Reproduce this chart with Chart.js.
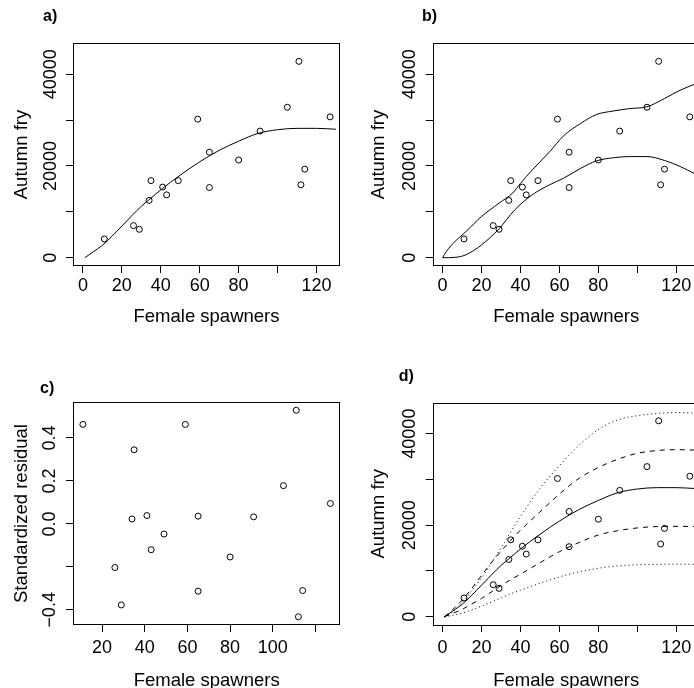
<!DOCTYPE html>
<html>
<head>
<meta charset="utf-8">
<script src="https://cdn.jsdelivr.net/npm/chart.js@4.4.0/dist/chart.umd.min.js"></script>
<style>
  html, body { margin: 0; padding: 0; background: #fff; overflow: hidden; width: 694px; height: 688px; }
  canvas { position: absolute; }
</style>
</head>
<body>
<canvas id="pa" width="347" height="344" style="left:0;top:0"></canvas>
<canvas id="pb" width="360" height="344" style="left:347px;top:0"></canvas>
<canvas id="pc" width="347" height="360" style="left:0;top:344px"></canvas>
<canvas id="pd" width="360" height="360" style="left:347px;top:344px"></canvas>
<script>
// observed data
const spawners = [11, 26, 29, 34, 35, 41, 43, 49, 59, 65, 65, 80, 91, 105, 111, 112, 114, 127];
const fry = [4100, 7000, 6200, 12500, 16800, 15400, 13700, 16800, 30200, 23000, 15300, 21300, 27600, 32800, 42800, 15900, 19300, 30700];
const residuals = [0.463, -0.203, -0.377, 0.023, 0.345, 0.039, -0.120, -0.047, 0.463, 0.036, -0.313, -0.154, 0.033, 0.178, 0.529, -0.432, -0.310, 0.095];

// fitted curve (panels a and d)
const fitX = [1, 5, 10, 15, 20, 25, 30, 35, 40, 50, 60, 70, 80, 90, 100, 110, 120, 130];
const fitY = [0, 1200, 2700, 4700, 6900, 9100, 11200, 13000, 14800, 18000, 20900, 23400, 25400, 27100, 27900, 28200, 28200, 28000];

// panel b envelope
const upperX = [0, 2, 6.5, 12, 20, 29, 36, 40, 46, 55, 62, 71, 79, 88, 96, 105, 114, 122, 130];
const upperY = [0, 1400, 3600, 5700, 9000, 11900, 14100, 16200, 19100, 23100, 26500, 29300, 31200, 32000, 32500, 32900, 34700, 36500, 37900];
const lowerX = [0, 6.5, 12, 20, 29, 37, 46, 55, 62, 71, 79, 88, 96, 105, 114, 122, 130];
const lowerY = [0, 90, 650, 2800, 6300, 10400, 13700, 15900, 17300, 19500, 21100, 21800, 22050, 22050, 21200, 19900, 18200];

// panel d intervals, same x as fitX
const upperDot = [0, 1000, 3200, 5700, 8500, 11700, 15000, 18500, 21900, 28000, 33000, 37400, 40900, 43000, 43900, 44400, 44600, 44500];
const upperDash = [0, 1500, 3600, 6200, 9000, 11800, 14300, 16700, 18900, 22900, 26800, 30200, 32600, 34400, 35700, 36300, 36500, 36400];
const lowerDash = [0, 700, 1600, 2800, 4000, 5400, 6800, 8100, 9300, 11800, 14200, 16200, 17850, 18800, 19400, 19700, 19750, 19700];
const lowerDot = [0, 300, 800, 1500, 2300, 3200, 4100, 5000, 5800, 7300, 8700, 9800, 10600, 11100, 11350, 11450, 11480, 11450];

// ticks
const xTicksSp = [0, 20, 40, 60, 80, 100, 120];
const xLabelsSp = [0, 20, 40, 60, 80, 120];
const yTicksFry = [0, 10000, 20000, 30000, 40000];
const yLabelsFry = [0, 20000, 40000];
const xTicksRes = [20, 40, 60, 80, 100, 120];
const xLabelsRes = [20, 40, 60, 80, 100];
const yTicksRes = [-0.4, -0.2, 0, 0.2, 0.4];
const yLabelsRes = [-0.4, 0, 0.2, 0.4];

const FONT = '"Liberation Sans", Arial, Helvetica, sans-serif';
const tickFont = { family: FONT, size: 18 };
const titleFont = { family: FONT, size: 18.5 };

const zip = (xs, ys) => xs.map((x, i) => ({ x: x, y: ys[i] }));

// box, R style y labels and the panel letter
const framePlugin = {
  id: 'frame',
  afterDraw(chart, args, opts) {
    const ctx = chart.ctx;
    const a = chart.chartArea;
    ctx.save();
    ctx.strokeStyle = '#000';
    ctx.lineWidth = 1;
    ctx.strokeRect(Math.round(a.left) + 0.5, Math.round(a.top) + 0.5,
      Math.round(a.right - a.left) - 1, Math.round(a.bottom - a.top) - 1);

    const ys = chart.scales.y;
    ctx.fillStyle = '#000';
    ctx.font = '18px ' + FONT;
    ctx.textAlign = 'center';
    ctx.textBaseline = 'middle';
    opts.yLabels.forEach(v => {
      ctx.save();
      ctx.translate(a.left - opts.yGap, ys.getPixelForValue(v));
      ctx.rotate(-Math.PI / 2);
      ctx.fillText(opts.fmt(v), 0, 0);
      ctx.restore();
    });

    ctx.font = 'bold 16px ' + FONT;
    ctx.textAlign = 'left';
    ctx.textBaseline = 'alphabetic';
    ctx.fillText(opts.tag, opts.tagX, opts.tagY);
    ctx.restore();
  }
};

function makeScales(p) {
  return {
    x: {
      type: 'linear',
      min: p.xRange[0],
      max: p.xRange[1],
      afterBuildTicks: s => { s.ticks = p.xTicks.map(v => ({ value: v })); },
      afterFit: s => { s.height = p.xHeight; },
      border: { display: false },
      grid: { drawOnChartArea: false, drawTicks: true, tickLength: 7, color: '#000', lineWidth: 1 },
      ticks: {
        autoSkip: false, maxRotation: 0, minRotation: 0, padding: p.xPad, color: '#000', font: tickFont,
        callback: v => p.xLabels.includes(v) ? String(v) : ''
      },
      title: { display: true, text: 'Female spawners', color: '#000', font: titleFont, padding: { top: 0, bottom: p.xTitlePad } }
    },
    y: {
      type: 'linear',
      min: p.yRange[0],
      max: p.yRange[1],
      afterBuildTicks: s => { s.ticks = p.yTicks.map(v => ({ value: v })); },
      afterFit: s => { s.width = p.left; },
      border: { display: false },
      grid: { drawOnChartArea: false, drawTicks: true, tickLength: 7, color: '#000', lineWidth: 1 },
      ticks: { display: false, autoSkip: false },
      title: { display: true, text: p.yTitle, color: '#000', font: titleFont, padding: { top: p.yTitlePad, bottom: 0 } }
    }
  };
}

function pointSet(xs, ys) {
  return {
    data: zip(xs, ys),
    pointStyle: 'circle',
    pointRadius: 3,
    pointBorderWidth: 1,
    pointBorderColor: '#000',
    pointBackgroundColor: 'rgba(0,0,0,0)',
    showLine: false
  };
}

function curveSet(xs, ys, dash) {
  return {
    type: 'line',
    data: zip(xs, ys),
    borderColor: '#000',
    borderWidth: 1,
    borderDash: dash || [],
    pointRadius: 0,
    fill: false,
    cubicInterpolationMode: 'monotone'
  };
}

function makePanel(id, p, datasets) {
  const canvas = document.getElementById(id);
  return new Chart(canvas, {
    type: 'scatter',
    data: { datasets: datasets },
    options: {
      responsive: false,
      animation: false,
      devicePixelRatio: 1,
      layout: { padding: { left: 0, top: p.top, right: p.right, bottom: 0 } },
      scales: makeScales(p),
      plugins: {
        legend: { display: false },
        tooltip: { enabled: false },
        frame: { yLabels: p.yLabels, yGap: p.yGap, fmt: p.fmt, tag: p.tag, tagX: p.tagX, tagY: p.tagY }
      }
    },
    plugins: [framePlugin]
  });
}

const fryFmt = v => String(v);
const resFmt = v => v.toFixed(1).replace('-', '\u2212');

makePanel('pa', {
  xRange: [-5.08, 132.08], yRange: [-1800, 46800],
  xTicks: xTicksSp, xLabels: xLabelsSp, yTicks: yTicksFry, yLabels: yLabelsFry,
  left: 73, top: 43, right: 7, xHeight: 78, xPad: 2, xTitlePad: 16,
  yTitle: 'Autumn fry', yTitlePad: 10.5, yGap: 22.2, fmt: fryFmt,
  tag: 'a)', tagX: 43, tagY: 20.5
}, [
  pointSet(spawners, fry),
  curveSet(fitX, fitY)
]);

makePanel('pb', {
  xRange: [-5.08, 132.08], yRange: [-1800, 46800],
  xTicks: xTicksSp, xLabels: xLabelsSp, yTicks: yTicksFry, yLabels: yLabelsFry,
  left: 85.7, top: 43, right: 7.3, xHeight: 78, xPad: 2, xTitlePad: 15.5,
  yTitle: 'Autumn fry', yTitlePad: 20.5, yGap: 22.4, fmt: fryFmt,
  tag: 'b)', tagX: 75, tagY: 20.5
}, [
  pointSet(spawners, fry),
  curveSet(upperX, upperY),
  curveSet(lowerX, lowerY)
]);

makePanel('pc', {
  xRange: [6.36, 131.64], yRange: [-0.4704, 0.5674],
  xTicks: xTicksRes, xLabels: xLabelsRes, yTicks: yTicksRes, yLabels: yLabelsRes,
  left: 73, top: 58, right: 6.7, xHeight: 79, xPad: 5.5, xTitlePad: 12,
  yTitle: 'Standardized residual', yTitlePad: 11, yGap: 23, fmt: resFmt,
  tag: 'c)', tagX: 40, tagY: 49
}, [
  pointSet(spawners, residuals)
]);

makePanel('pd', {
  xRange: [-5.08, 132.08], yRange: [-1800, 46800],
  xTicks: xTicksSp, xLabels: xLabelsSp, yTicks: yTicksFry, yLabels: yLabelsFry,
  left: 85.7, top: 58.5, right: 7.3, xHeight: 79, xPad: 5, xTitlePad: 12,
  yTitle: 'Autumn fry', yTitlePad: 20.5, yGap: 22.4, fmt: fryFmt,
  tag: 'd)', tagX: 51.7, tagY: 36.7
}, [
  pointSet(spawners, fry),
  curveSet(fitX, fitY),
  curveSet(fitX, upperDash, [5, 5]),
  curveSet(fitX, lowerDash, [5, 5]),
  curveSet(fitX, upperDot, [1, 3]),
  curveSet(fitX, lowerDot, [1, 3])
]);
</script>
</body>
</html>
